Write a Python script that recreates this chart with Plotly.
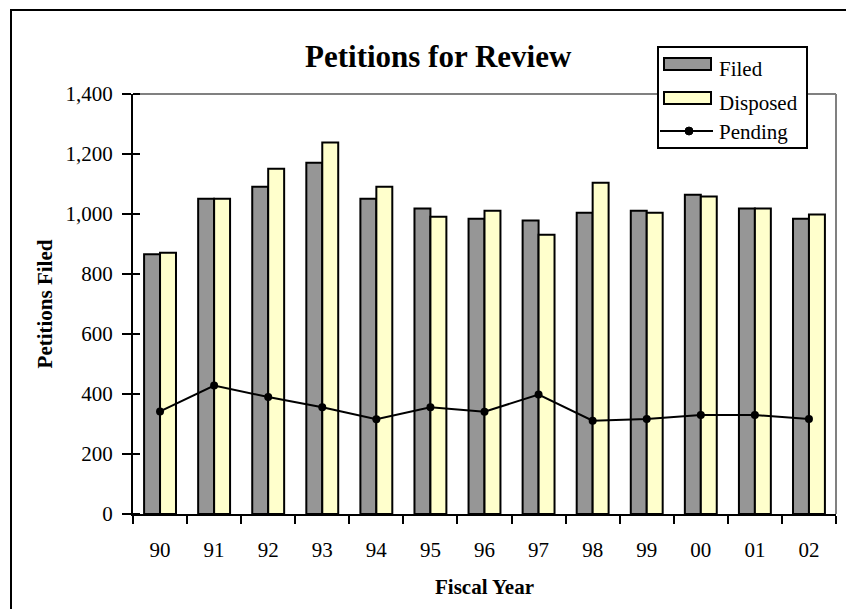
import plotly.graph_objects as go

years = ["90", "91", "92", "93", "94", "95", "96", "97", "98", "99", "00", "01", "02"]
filed = [866, 1051, 1091, 1171, 1051, 1018, 984, 978, 1004, 1011, 1064, 1018, 984]
disposed = [871, 1051, 1151, 1238, 1091, 991, 1011, 931, 1104, 1004, 1058, 1018, 998]
pending = [342, 428, 390, 356, 316, 356, 341, 398, 311, 317, 330, 330, 317]
y_ticks = [0, 200, 400, 600, 800, 1000, 1200, 1400]
series_names = ["Filed", "Disposed", "Pending"]
series_colors = ["#969696", "#FFFFCC", "black"]

FONT = "Liberation Serif"

W, H = 854, 609
OFF = 8  # default page body margin shifts the figure by this much
# plot area in screen pixels: x 133..836, y 94..514
L = 133 - OFF
T = 94 - OFF
R = W - (836 - OFF)
B = H - (514 - OFF)
PW, PH = W - L - R, H - T - B


def px(x):
    return (x - OFF - L) / PW


def py(y):
    return (H - B - (y - OFF)) / PH


fig = go.Figure()
fig.add_trace(go.Bar(
    x=years, y=filed, name=series_names[0],
    marker=dict(color=series_colors[0], line=dict(color="black", width=2)),
))
fig.add_trace(go.Bar(
    x=years, y=disposed, name=series_names[1],
    marker=dict(color=series_colors[1], line=dict(color="black", width=2)),
))
fig.add_trace(go.Scatter(
    x=years, y=pending, name=series_names[2], mode="lines+markers",
    line=dict(color=series_colors[2], width=2),
    marker=dict(color=series_colors[2], size=8, symbol="circle"),
))

shapes = [
    # gray top and right plot border
    dict(type="line", xref="paper", yref="paper", x0=0, x1=1, y0=1, y1=1,
         line=dict(color="#808080", width=2), layer="below"),
    dict(type="line", xref="paper", yref="paper", x0=1, x1=1, y0=0, y1=1,
         line=dict(color="#808080", width=2), layer="below"),
    # outer frame
    dict(type="rect", xref="paper", yref="paper",
         x0=px(11), x1=px(851), y0=py(10), y1=py(650),
         line=dict(color="black", width=2), fillcolor="rgba(0,0,0,0)"),
    # legend box
    dict(type="rect", xref="paper", yref="paper",
         x0=px(658), x1=px(807), y0=py(47), y1=py(148),
         line=dict(color="black", width=2), fillcolor="white", layer="above"),
    # legend symbols
    dict(type="rect", xref="paper", yref="paper",
         x0=px(664), x1=px(711), y0=py(58), y1=py(70),
         line=dict(color="black", width=2), fillcolor=series_colors[0]),
    dict(type="rect", xref="paper", yref="paper",
         x0=px(664), x1=px(711), y0=py(92), y1=py(104),
         line=dict(color="black", width=2), fillcolor=series_colors[1]),
    dict(type="line", xref="paper", yref="paper",
         x0=px(660), x1=px(713), y0=py(131), y1=py(131),
         line=dict(color="black", width=2)),
    dict(type="circle", xref="paper", yref="paper",
         x0=px(685), x1=px(693), y0=py(127), y1=py(135),
         line=dict(color="black", width=1), fillcolor="black"),
]

legend_y = [69, 103, 132]
annotations = [
    dict(text="<b>Petitions for Review</b>", xref="paper", yref="paper",
         x=px(438), y=py(56), xanchor="center", yanchor="middle",
         showarrow=False, font=dict(family=FONT, size=31, color="black")),
]
for name, yy in zip(series_names, legend_y):
    annotations.append(dict(
        text=name, xref="paper", yref="paper", x=px(717), y=py(yy),
        xanchor="left", yanchor="middle", showarrow=False,
        font=dict(family=FONT, size=21, color="black"),
    ))

fig.update_layout(
    width=W, height=H,
    margin=dict(l=L, r=R, t=T, b=B, autoexpand=False),
    paper_bgcolor="white", plot_bgcolor="white",
    font=dict(family=FONT, size=21, color="black"),
    barmode="group", bargap=0.41, bargroupgap=0,
    showlegend=False,
    shapes=shapes,
    annotations=annotations,
    xaxis=dict(
        type="category", range=[-0.5, len(years) - 0.5],
        showline=True, linecolor="black", linewidth=2,
        ticks="outside", ticklen=8, tickwidth=2, tickcolor="black",
        tickson="boundaries", showgrid=False, zeroline=False, automargin=False,
        tickfont=dict(family=FONT, size=21), ticklabelstandoff=16,
        title=dict(text="<b>Fiscal Year</b>", font=dict(family=FONT, size=21), standoff=18),
    ),
    yaxis=dict(
        range=[0, 1400], tickvals=y_ticks, tickformat=",d",
        showline=True, linecolor="black", linewidth=2,
        ticks="outside", ticklen=9, tickwidth=2, tickcolor="black",
        minor=dict(tickvals=y_ticks, ticks="inside", ticklen=7, tickwidth=2,
                   tickcolor="black", showgrid=False),
        showgrid=False, zeroline=False, automargin=False,
        tickfont=dict(family=FONT, size=21), ticklabelstandoff=5,
        title=dict(text="<b>Petitions Filed</b>", font=dict(family=FONT, size=21), standoff=7),
    ),
)

fig.write_html("out.html")
